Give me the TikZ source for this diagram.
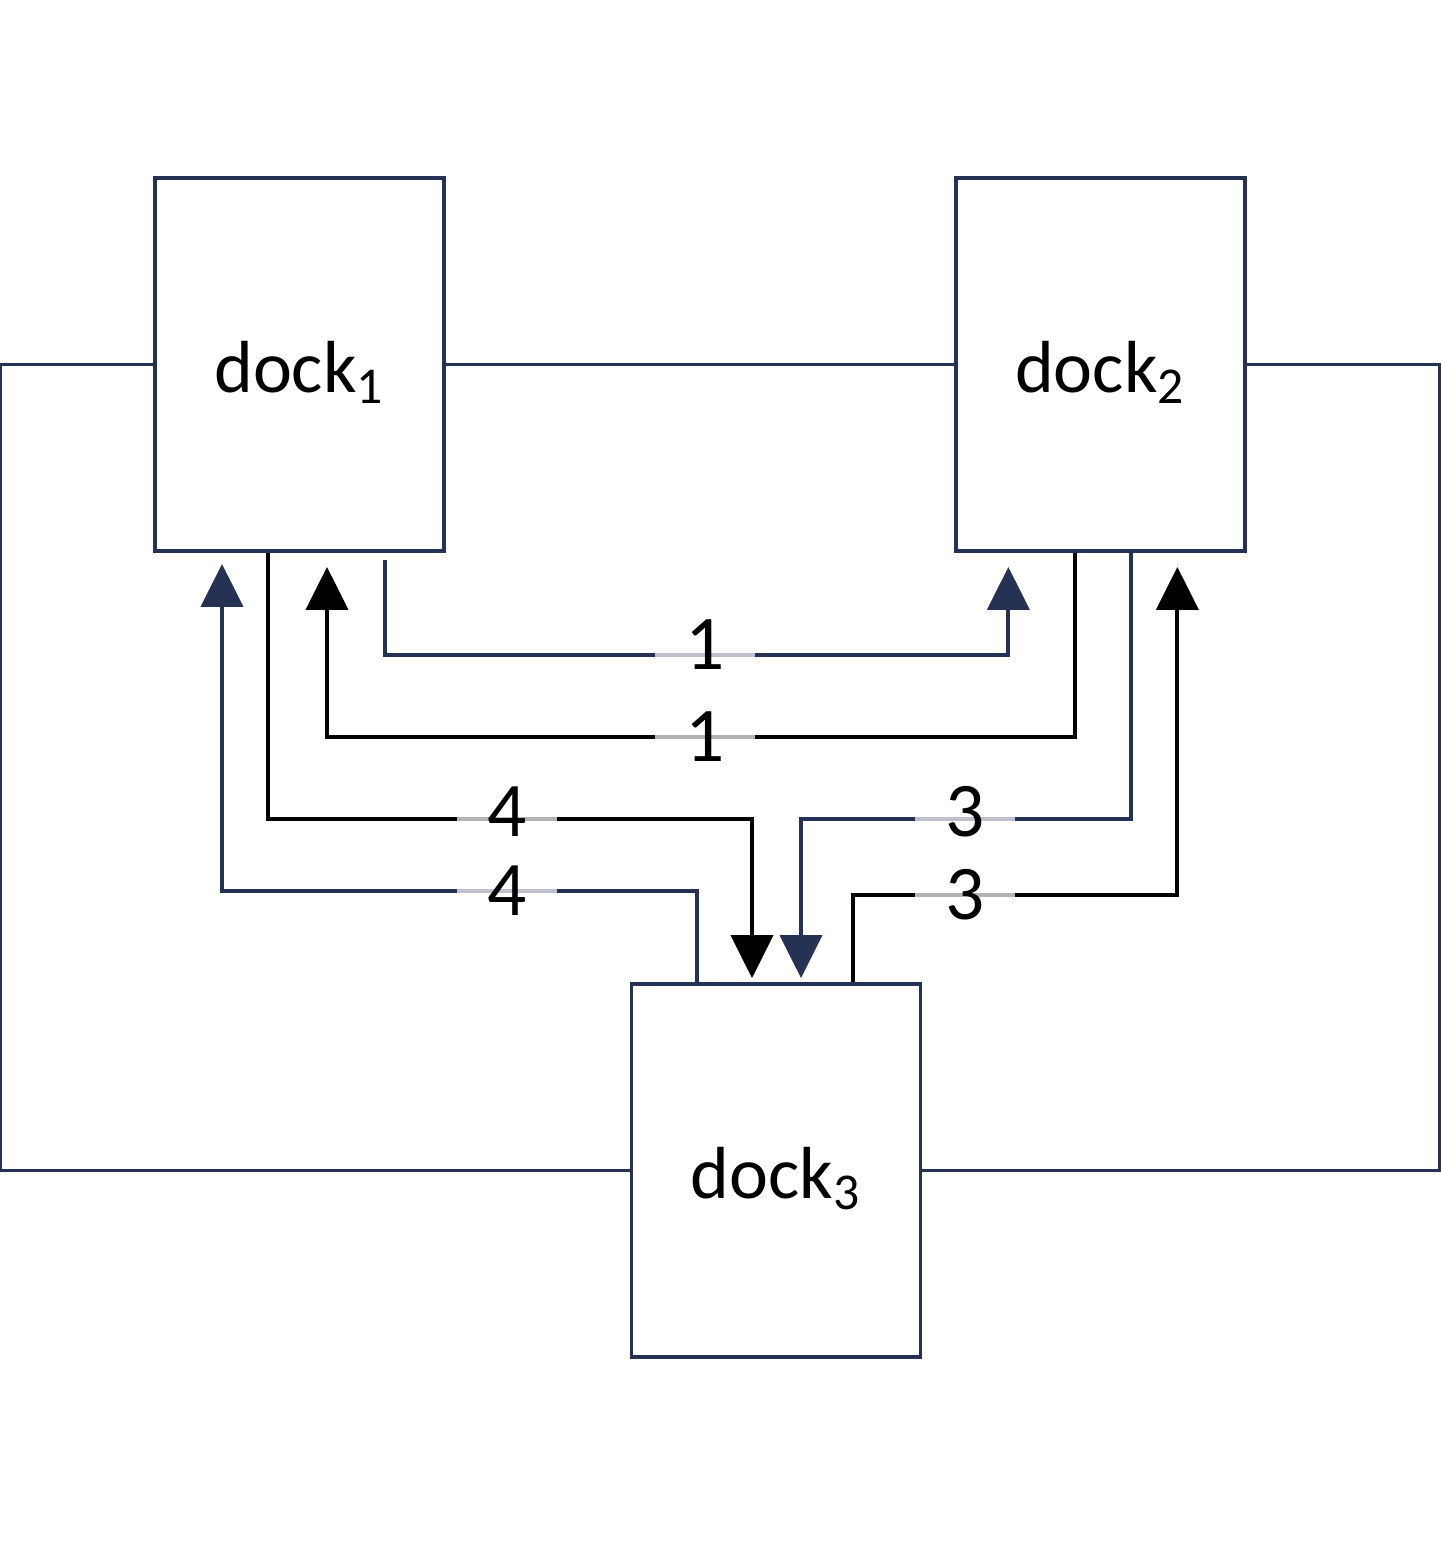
\documentclass[tikz,border=0pt]{standalone}
\usepackage{fontspec}
\setmainfont{Carlito}
\usetikzlibrary{calc}
\usetikzlibrary{positioning}
\usetikzlibrary{arrows.meta}
\definecolor{navy}{RGB}{37,50,84}

\begin{document}
\begin{tikzpicture}[x=1cm, y=-1cm]
    \tikzstyle{dock}=[draw=navy, line width=1.1pt, minimum width=2.89cm, minimum height=3.73cm, text height=19pt, text depth=3pt, font=\fontsize{21}{25}\selectfont]
    \tikzstyle{navyline}=[draw=navy, line width=1.1pt]
    \tikzstyle{blackline}=[draw=black, line width=1.2pt]
    \tikzstyle{navyarrow}=[navyline, -{Triangle[width=0.42cm, length=0.43cm]}]
    \tikzstyle{blackarrow}=[blackline, -{Triangle[width=0.42cm, length=0.43cm]}]
    \tikzstyle{lbl}=[fill=white, fill opacity=0.7, text opacity=1, minimum width=1cm, inner ysep=1pt, font=\fontsize{22}{26}\selectfont]

    \useasboundingbox (0, 0) rectangle (14.41, 15.41);

    % Docks
    \node[dock] (dock1) at (2.995, 3.645) {dock\textsubscript{1}};
    \node[dock, right=5.08cm of dock1] (dock2) {dock\textsubscript{2}};
    \node[dock] (dock3) at (7.76, 11.705) {dock\textsubscript{3}};

    % Outer lines
    \draw[navyline] (dock1.west) -- ++(-1.53, 0) |- (dock3.west);
    \draw[navyline] (dock1.east) -- (dock2.west);
    \draw[navyline] (dock2.east) -- ++(1.93, 0) |- (dock3.east);

    % Between dock1 and dock2
    \draw[navyarrow] ($(dock1.south) + (0.855, 0.07)$) |- (7.05, 6.55) node[lbl, yshift=0.1cm] {1}
      -| ($(dock2.south) + (-0.92, 0.14)$);
    \draw[blackarrow] ($(dock2.south) + (-0.25, 0)$) |- (7.05, 7.37) node[lbl] {1}
      -| ($(dock1.south) + (0.275, 0.14)$);

    % Between dock1 and dock3
    \draw[blackarrow] ($(dock1.south) + (-0.315, 0)$) |- (5.07, 8.19) node[lbl, yshift=0.07cm] {4}
      -| ($(dock3.north) + (-0.24, -0.04)$);
    \draw[navyarrow] ($(dock3.north) + (-0.79, 0)$) |- (5.07, 8.91) node[lbl] {4}
      -| ($(dock1.south) + (-0.775, 0.11)$);

    % Between dock2 and dock3
    \draw[navyarrow] ($(dock2.south) + (0.31, 0)$) |- (9.65, 8.19) node[lbl, yshift=0.07cm] {3}
      -| ($(dock3.north) + (0.25, -0.04)$);
    \draw[blackarrow] ($(dock3.north) + (0.77, 0)$) |- (9.65, 8.95) node[lbl] {3}
      -| ($(dock2.south) + (0.77, 0.14)$);
  \end{tikzpicture}
\end{document}
